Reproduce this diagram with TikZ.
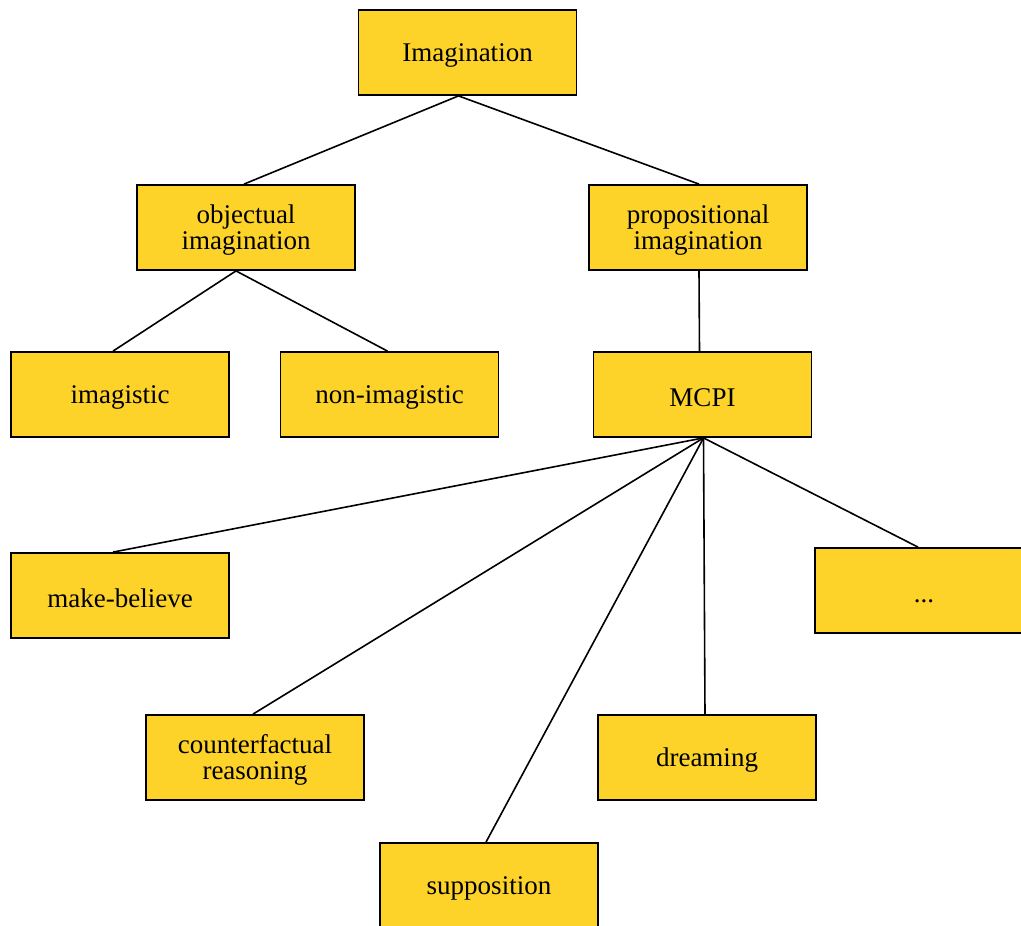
\documentclass[tikz,border=0pt]{standalone}
\usepackage{fontspec}
\setmainfont{Liberation Serif}
\definecolor{boxfill}{HTML}{FDD32A}
\begin{document}
\begin{tikzpicture}[x=1pt,y=-1pt,
  box/.style={draw=black, line width=1.8pt, fill=boxfill, minimum width=218pt, minimum height=85pt, inner sep=0pt, align=center, text height=24pt, font=\fontsize{27}{26}\selectfont},
  twoline/.style={text height=50pt},
  link/.style={line width=1.6pt}]
\useasboundingbox (0,0) rectangle (1021,926);
\node[box] (imag) at (467.5,52.5) {Imagination};
\node[box,twoline] (obj) at (246,227.5) {objectual\\imagination};
\node[box,twoline] (prop) at (698,227.5) {propositional\\imagination};
\node[box] (imgc) at (120,394.5) {imagistic};
\node[box] (nonimg) at (389.5,394.5) {non-imagistic};
\node[box] (mcpi) at (702.5,394.5) {MCPI};
\node[box] (mb) at (120,595.5) {make-believe};
\node[box] (etc) at (924,590.5) {...};
\node[box,twoline] (cf) at (255,757.5) {counterfactual\\reasoning};
\node[box] (dream) at (707,757.5) {dreaming};
\node[box] (supp) at (489,885.5) {supposition};
\draw[link] ([xshift=-9pt]imag.south) -- ([xshift=-2pt]obj.north);
\draw[link] ([xshift=-9pt]imag.south) -- ([xshift=1pt]prop.north);
\draw[link] ([xshift=-10pt]obj.south) -- ([xshift=-7pt]imgc.north);
\draw[link] ([xshift=-10pt]obj.south) -- ([xshift=-2pt]nonimg.north);
\draw[link] ([xshift=1pt]prop.south) -- ([xshift=-3pt]mcpi.north);
\draw[link] ([xshift=1pt]mcpi.south) -- ([xshift=-7pt]mb.north);
\draw[link] ([xshift=1pt]mcpi.south) -- ([xshift=-2pt]cf.north);
\draw[link] ([xshift=1pt]mcpi.south) -- ([xshift=-3pt]supp.north);
\draw[link] ([xshift=1pt]mcpi.south) -- ([xshift=-2pt]dream.north);
\draw[link] ([xshift=1pt]mcpi.south) -- ([xshift=-6pt]etc.north);
\end{tikzpicture}
\end{document}
